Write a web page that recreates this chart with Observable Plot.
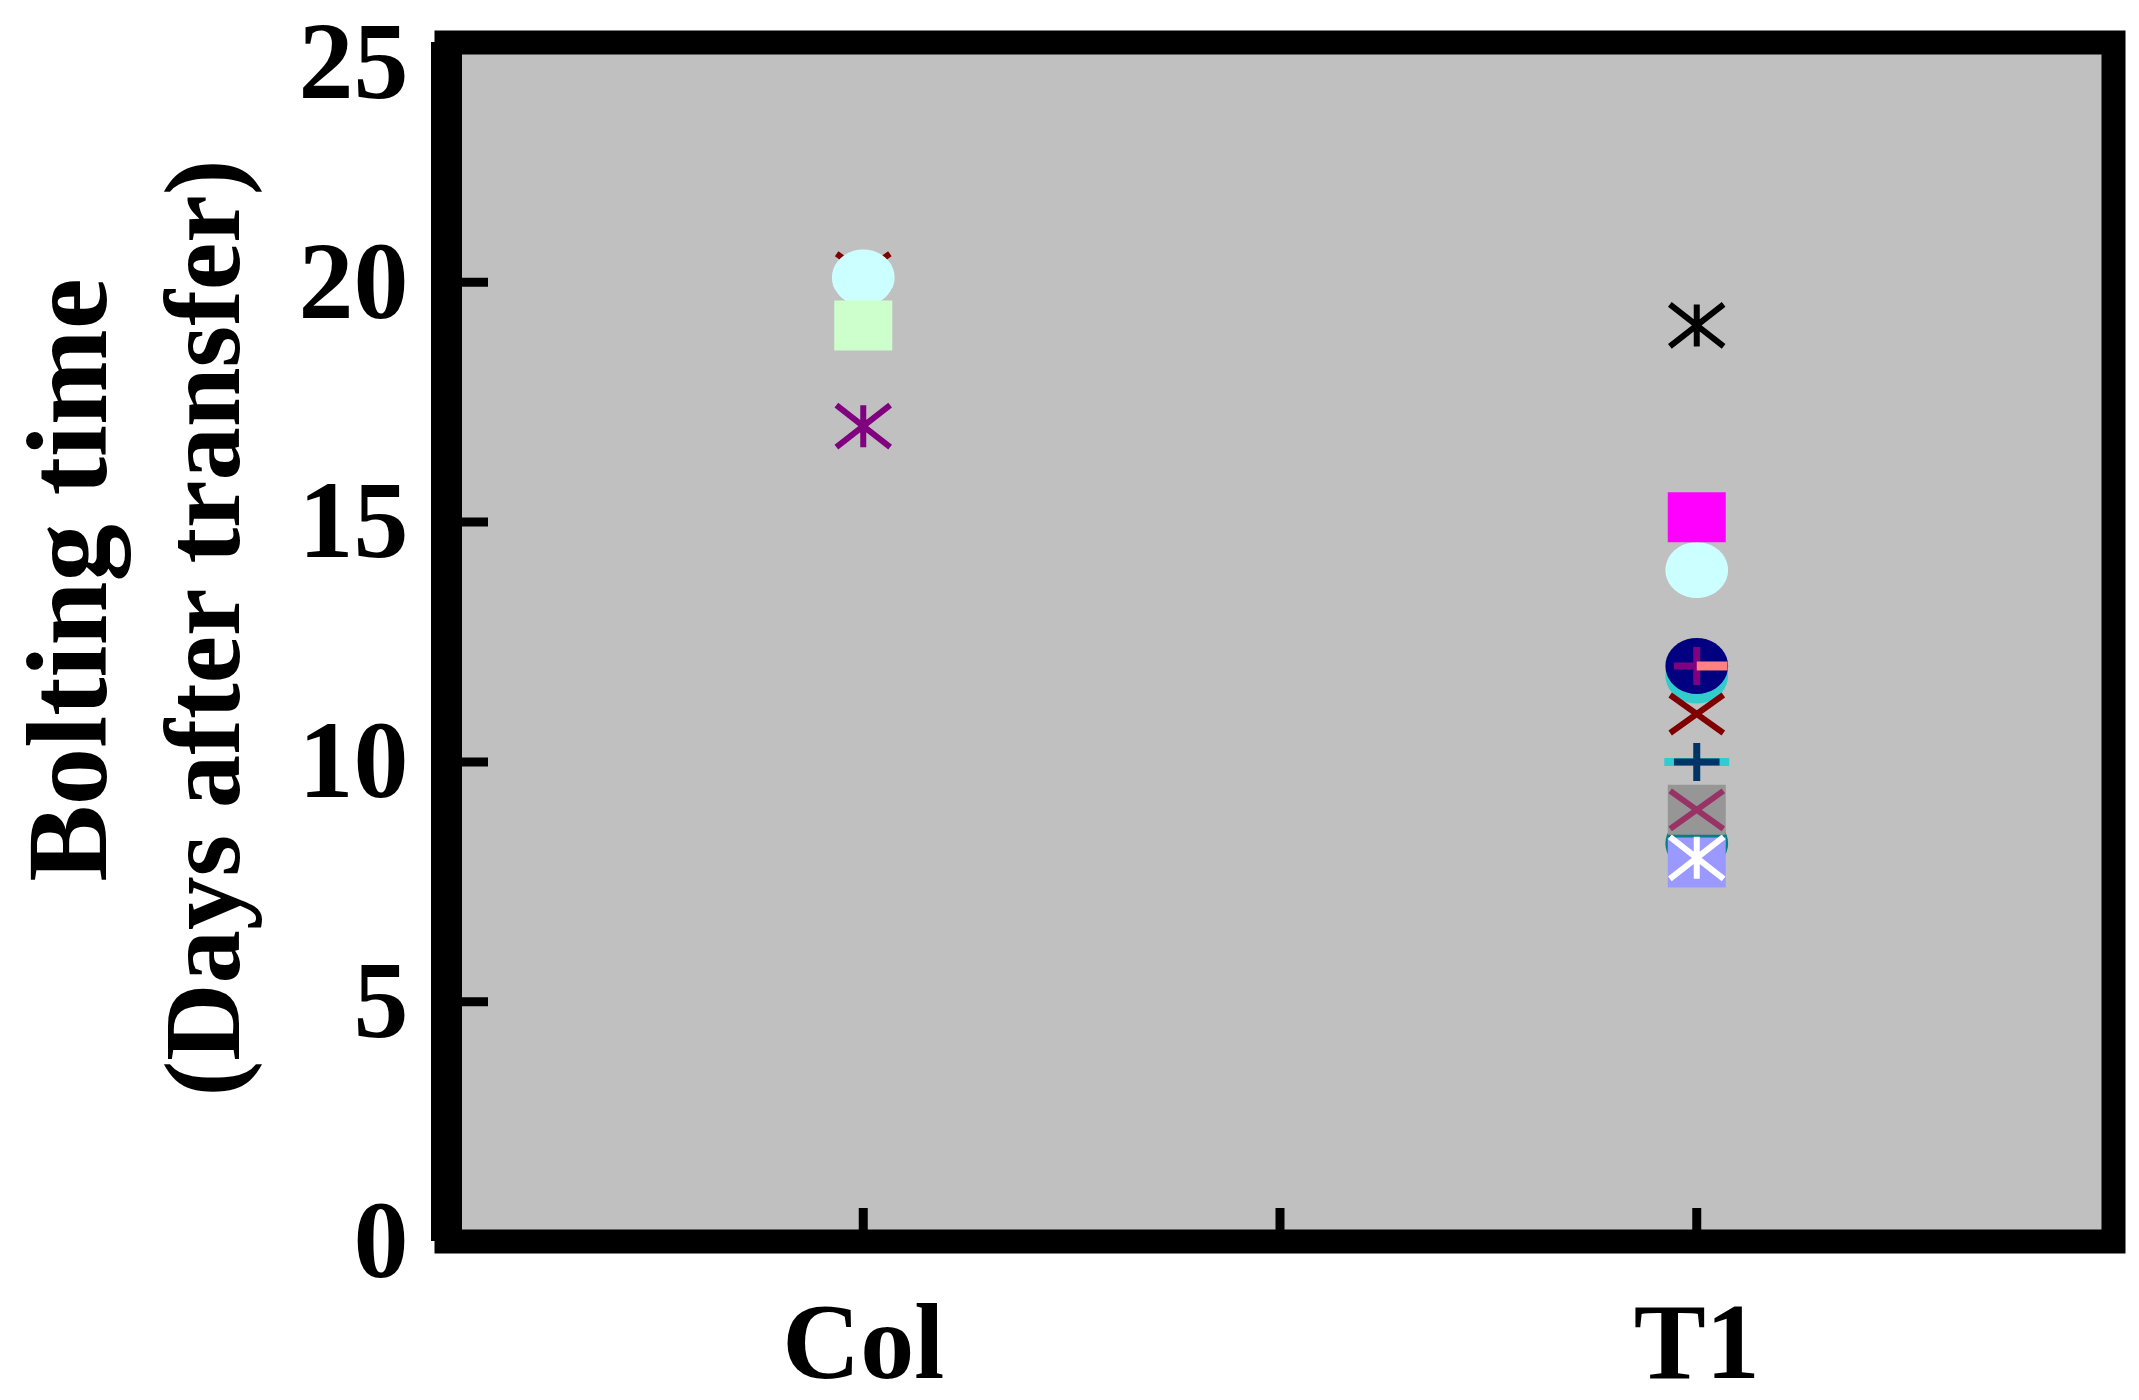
<!DOCTYPE html>
<html>
<head>
<meta charset="utf-8">
<script src="https://cdn.jsdelivr.net/npm/d3@7"></script>
<script src="https://cdn.jsdelivr.net/npm/@observablehq/plot@0.6"></script>
<style>
  html, body { margin: 0; padding: 0; background: #ffffff; }
  #chart svg { display: block; }
</style>
</head>
<body>
<div id="chart"></div>
<script>
// ---- data ----
const groups = ["Col", "T1"];
const groupPositions = [1, 3];          // category slots on the x axis (0..4)
const xTickValues = [1, 2, 3];
const xTickLabels = ["Col", "", "T1"];
const yTickValues = [0, 5, 10, 15, 20];
const yTopTick = [25];
const yLabelLine1 = "Bolting time";
const yLabelLine2 = "(Days after transfer)";

// individual plants (drawn in this order)
const pointGroup = ["Col", "Col", "Col", "Col",
                    "T1", "T1", "T1", "T1", "T1", "T1", "T1", "T1", "T1", "T1", "T1", "T1", "T1", "T1", "T1"];
const pointValue = [20.2, 20.1, 19.1, 17.0,
                    8.3, 7.9, 8.0, 9.0, 9.0, 10.0, 10.0, 11.8, 12.0, 12.0, 12.0, 11.0, 14.0, 15.1, 19.1];
// styles for each point
const pointShape = ["times", "circle", "square", "star",
                    "circle", "square", "star", "square", "times", "dash", "plus", "circle", "circle", "plus", "halfdash", "times", "circle", "square", "star"];
const pointColor = ["#800000", "#ccffff", "#ccffcc", "#800080",
                    "#008080", "#9999ff", "#ffffff", "#969696", "#993366", "#33cccc", "#003366", "#33cccc", "#000080", "#800080", "#ff8080", "#800000", "#ccffff", "#ff00ff", "#000000"];

// ---- symbols (slightly wide, as in the original raster) ----
function half(size) { return Math.sqrt(size / Math.PI); }
const symbols = {
  square: {fill: true, draw(c, size) { const s = half(size), w = 1.16 * s; c.rect(-w, -s, 2 * w, 2 * s); }},
  circle: {fill: true, draw(c, size) {
    const s = half(size), w = 1.12 * s, n = 40;
    for (let i = 0; i < n; i++) {
      const a = 2 * Math.PI * i / n, px = w * Math.cos(a), py = s * Math.sin(a);
      if (i === 0) c.moveTo(px, py); else c.lineTo(px, py);
    }
    c.closePath();
  }},
  times: {fill: false, draw(c, size) { const s = half(size), w = 1.4 * s;
    c.moveTo(-w, -s); c.lineTo(w, s); c.moveTo(w, -s); c.lineTo(-w, s); }},
  star: {fill: false, draw(c, size) { const s = half(size), w = 1.28 * s;
    c.moveTo(-w, -s); c.lineTo(w, s); c.moveTo(w, -s); c.lineTo(-w, s);
    c.moveTo(0, -s); c.lineTo(0, s); }},
  plus: {fill: false, draw(c, size) { const s = half(size), w = 1.2 * s;
    c.moveTo(-w, 0); c.lineTo(w, 0); c.moveTo(0, -s); c.lineTo(0, s); }},
  dash: {fill: false, draw(c, size) { const s = half(size); c.moveTo(-1.16 * s, 0); c.lineTo(1.16 * s, 0); }},
  halfdash: {fill: false, draw(c, size) { const s = half(size); c.moveTo(0, 0); c.lineTo(1.1 * s, 0); }}
};
const shapeR = {square: 25, circle: 28, times: 19, star: 21, plus: 19, dash: 28, halfdash: 28};
const shapeSW = {times: 6, star: 6, plus: 7, dash: 8, halfdash: 9};

const points = pointValue.map((v, i) => ({
  x: groupPositions[groups.indexOf(pointGroup[i])],
  y: v, shape: pointShape[i], color: pointColor[i]
}));

const font = "'Liberation Serif', 'Times New Roman', serif";

const dotMarks = points.map(p => {
  const sym = symbols[p.shape];
  return Plot.dot([p], {
    x: "x", y: "y",
    symbol: sym,
    r: shapeR[p.shape],
    fill: sym.fill ? p.color : "none",
    stroke: sym.fill ? "none" : p.color,
    strokeWidth: sym.fill ? 0 : shapeSW[p.shape],
    strokeLinecap: "butt"
  });
});

const chart = Plot.plot({
  width: 2139,
  height: 1400,
  marginLeft: 446,
  marginRight: 26,
  marginTop: 42,
  marginBottom: 159,
  style: {fontFamily: font, background: "#ffffff", color: "#000000"},
  x: {type: "linear", domain: [0, 4], axis: null},
  y: {type: "linear", domain: [0, 25], axis: null},
  marks: [
    Plot.frame({fill: "#c0c0c0", stroke: "none"}),
    ...dotMarks,
    Plot.axisY(yTickValues, {
      anchor: "left", label: null, tickSize: -42, tickPadding: 80,
      strokeWidth: 9, fontSize: 110, fontWeight: "bold", fontFamily: font
    }),
    Plot.axisY(yTopTick, {
      anchor: "left", label: null, tickSize: 0, tickPadding: 38, dy: 20,
      fontSize: 110, fontWeight: "bold", fontFamily: font
    }),
    Plot.axisX(xTickValues, {
      anchor: "bottom", label: null, tickSize: -33, tickPadding: 93,
      tickFormat: d => xTickLabels[xTickValues.indexOf(d)],
      strokeWidth: 9, fontSize: 108, fontWeight: "bold", fontFamily: font
    }),
    Plot.frame({stroke: "#000000", strokeWidth: 24, fill: "none"}),
    Plot.ruleX([0], {stroke: "#000000", strokeWidth: 31}),
    Plot.text([yLabelLine1], {
      frameAnchor: "left", rotate: -90, textAnchor: "middle", lineAnchor: "bottom",
      dx: -341, dy: -62, fontSize: 115, fontWeight: "bold", fontFamily: font, fill: "#000000"
    }),
    Plot.text([yLabelLine2], {
      frameAnchor: "left", rotate: -90, textAnchor: "middle", lineAnchor: "bottom",
      dx: -208, dy: -14, fontSize: 107, fontWeight: "bold", fontFamily: font, fill: "#000000"
    })
  ]
});
document.getElementById("chart").appendChild(chart);
</script>
</body>
</html>
